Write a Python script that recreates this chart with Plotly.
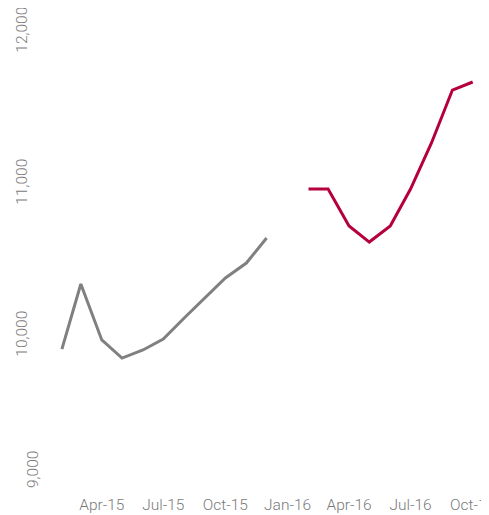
import plotly.graph_objects as go

months_2015 = ["2015-02-01", "2015-03-01", "2015-04-01", "2015-05-01", "2015-06-01", "2015-07-01",
               "2015-08-01", "2015-09-01", "2015-10-01", "2015-11-01", "2015-12-01"]
values_2015 = [9914, 10342, 9974, 9855, 9908, 9980, 10118, 10250, 10382, 10480, 10645]

months_2016 = ["2016-02-01", "2016-03-01", "2016-04-01", "2016-05-01", "2016-06-01",
               "2016-07-01", "2016-08-01", "2016-09-01", "2016-10-01"]
values_2016 = [10967, 10967, 10724, 10618, 10724, 10967, 11270, 11618, 11671]

y_ticks = [10000, 11000, 12000]
y_bottom_label = 9000

fig = go.Figure()
fig.add_trace(go.Scatter(x=months_2015, y=values_2015, mode="lines",
                         line=dict(color="#808080", width=3), showlegend=False))
fig.add_trace(go.Scatter(x=months_2016, y=values_2016, mode="lines",
                         line=dict(color="#B5003C", width=3), showlegend=False))

font = dict(family="Roboto", size=15.5, color="#7a7a7a", weight=300)

fig.add_annotation(x=0, xref="paper", y=y_bottom_label, yref="y",
                   text=f"{y_bottom_label:,}", textangle=-90, showarrow=False,
                   xanchor="center", yanchor="middle", xshift=-10, yshift=18, font=font)

fig.update_layout(
    width=489, height=515,
    margin=dict(l=35, r=0, t=24, b=35),
    paper_bgcolor="white", plot_bgcolor="white",
    font=font,
    xaxis=dict(
        type="date", range=["2015-01-04", "2016-11-06"],
        tick0="2015-04-01", dtick="M3", tickformat="%b-%y",
        showgrid=False, zeroline=False, showline=False,
        ticks="", ticklabelstandoff=5, automargin=False,
        ticklabeloverflow="allow", tickfont=font,
    ),
    yaxis=dict(
        range=[9000, 12000], tickvals=y_ticks, tickformat=",d",
        showgrid=False, zeroline=False, showline=False,
        tickangle=-90, ticks="", ticklabelstandoff=12, automargin=False,
        ticklabeloverflow="allow", tickfont=font,
    ),
)

fig.write_html("out.html")
